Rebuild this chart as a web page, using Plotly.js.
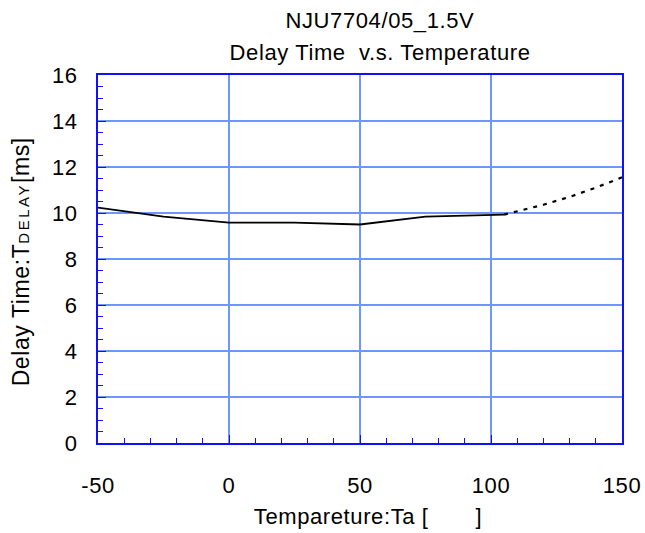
<!DOCTYPE html>
<html>
<head>
<meta charset="utf-8">
<script src="https://cdn.plot.ly/plotly-3.0.1.min.js"></script>
<style>html,body{margin:0;padding:0;background:#fff;}#chart{width:645px;height:533px;}
#chart text{letter-spacing:0.6px;}</style>
</head>
<body>
<div id="chart"></div>
<script>
// Measured (solid) data
const tempMeasured = [-50, -25, 0, 25, 50, 75, 105];
const delayMeasured = [10.23, 9.84, 9.58, 9.58, 9.5, 9.84, 9.93];
// Extrapolated (dotted) data
const tempExtra = [105, 110, 120, 130, 140, 150];
const delayExtra = [9.93, 10.08, 10.36, 10.7, 11.1, 11.55];

const xTicks = [-50, 0, 50, 100, 150];
const yTicks = [0, 2, 4, 6, 8, 10, 12, 14, 16];

const titleLine1 = 'NJU7704/05_1.5V';
const titleLine2 = 'Delay Time  v.s. Temperature';
const xTitle = 'Tempareture:Ta [       ]';
const yTitle = 'Delay Time:T<span style="font-size:15px;letter-spacing:2.5px">DELAY</span>[ms]';

const font = 'Arial, "Liberation Sans", sans-serif';
const gridColor = '#6b97ff';
const axisColor = '#1010ff';
const FS = 22;

const traces = [
  {x: tempMeasured, y: delayMeasured, mode: 'lines', line: {color: '#000', width: 1.8}, hoverinfo: 'skip'},
  {x: tempExtra, y: delayExtra, mode: 'lines', line: {color: '#000', width: 2.2, dash: '4px,6px'}, hoverinfo: 'skip'}
];

const layout = {
  width: 645, height: 533,
  margin: {l: 98, r: 23, t: 75, b: 90, pad: 0},
  paper_bgcolor: '#fff', plot_bgcolor: '#fff',
  showlegend: false,
  font: {family: font, size: FS, color: '#000'},
  annotations: [
    {text: titleLine1, xref: 'paper', yref: 'paper', x: 0.538, y: 1, yanchor: 'middle', xanchor: 'center', showarrow: false, font: {size: FS, family: font}, yshift: 55},
    {text: titleLine2, xref: 'paper', yref: 'paper', x: 0.538, y: 1, yanchor: 'middle', xanchor: 'center', showarrow: false, font: {size: FS, family: font}, yshift: 23},
    {text: yTitle, xref: 'paper', yref: 'paper', x: -0.147, y: 0.493, xanchor: 'center', yanchor: 'middle', textangle: -90, showarrow: false, font: {size: 23, family: font}},
    {text: xTitle, xref: 'paper', yref: 'paper', x: 0.515, y: -0.2, xanchor: 'center', yanchor: 'middle', showarrow: false, font: {size: FS, family: font}}
  ],
  xaxis: {
    range: [-50, 150], tickvals: xTicks, ticktext: xTicks.map(String),
    showgrid: true, gridcolor: gridColor, gridwidth: 1.5,
    showline: true, linecolor: axisColor, linewidth: 2, mirror: true,
    ticks: 'inside', ticklen: 8, tickcolor: axisColor, tickwidth: 1,
    minor: {dtick: 10, ticks: 'inside', ticklen: 5, tickcolor: axisColor, showgrid: false},
    zeroline: false, tickfont: {size: FS}, ticklabelstandoff: 22
  },
  yaxis: {
    range: [0, 16], tickvals: yTicks, ticktext: yTicks.map(String),
    showgrid: true, gridcolor: gridColor, gridwidth: 1.5,
    showline: true, linecolor: axisColor, linewidth: 2, mirror: true,
    ticks: 'inside', ticklen: 8, tickcolor: axisColor, tickwidth: 1,
    minor: {dtick: 0.5, ticks: 'inside', ticklen: 5, tickcolor: axisColor, showgrid: false},
    zeroline: false, tickfont: {size: FS}, ticklabelstandoff: 14
  }
};

Plotly.newPlot('chart', traces, layout, {staticPlot: true, displayModeBar: false});
</script>
</body>
</html>
